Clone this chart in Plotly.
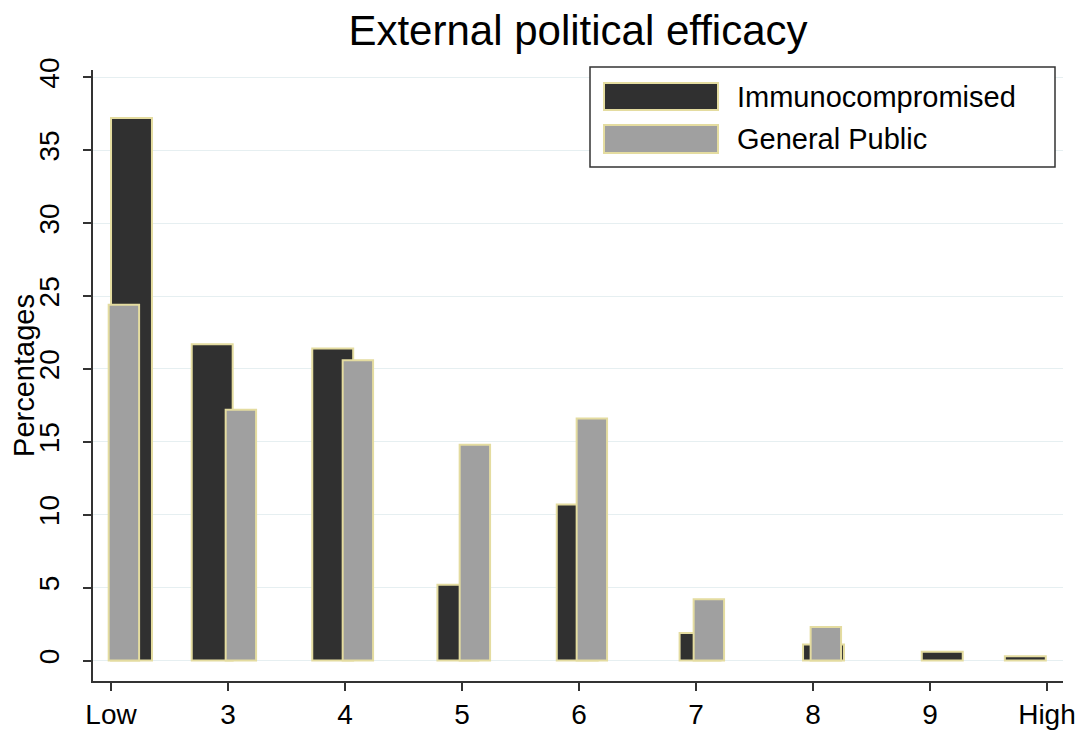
import plotly.graph_objects as go

# ---- data ----
categories = ["Low", "3", "4", "5", "6", "7", "8", "9", "High"]
immunocompromised = [37.2, 21.7, 21.4, 5.2, 10.7, 1.9, 1.1, 0.6, 0.3]
general_public = [24.4, 17.2, 20.6, 14.8, 16.6, 4.2, 2.3, 0, 0]
y_ticks = [0, 5, 10, 15, 20, 25, 30, 35, 40]

x_pos = list(range(2, 2 + len(categories)))

# ---- style ----
dark_offset = [0.0, -0.31, -0.28, -0.21, -0.19, -0.14, -0.085, -0.07, -0.36]
dark_width = 0.35
gray_offset = -0.02
gray_width = 0.26
outline = "rgb(228,220,160)"
font_family = "Liberation Sans, Arial, sans-serif"

gray_line_w = [2 if v > 0 else 0 for v in general_public]

fig = go.Figure()
fig.add_trace(go.Bar(
    x=x_pos, y=immunocompromised, name="Immunocompromised",
    offset=dark_offset, width=[dark_width] * len(x_pos),
    marker=dict(color="#303030", line=dict(color=outline, width=2)),
    showlegend=False,
))
fig.add_trace(go.Bar(
    x=x_pos, y=general_public, name="General Public",
    offset=[gray_offset] * len(x_pos), width=[gray_width] * len(x_pos),
    marker=dict(color="#a0a0a0", line=dict(color=outline, width=gray_line_w)),
    showlegend=False,
))

# page has an 8px body margin
PAD = 8
PAGE_W, PAGE_H = 1083, 733
W, H = PAGE_W - PAD, PAGE_H - PAD
# plot area in page pixels
L, R, T, B = 93, 1063, 70, 681


def px(x):
    return (x - L) / (R - L)


def py(y):
    return (B - y) / (B - T)


shapes = [
    dict(type="rect", xref="paper", yref="paper", x0=px(590), x1=px(1055), y0=py(167), y1=py(67),
         line=dict(color="#333333", width=1.5), fillcolor="white", layer="above"),
    dict(type="rect", xref="paper", yref="paper", x0=px(604), x1=px(718), y0=py(110), y1=py(83),
         line=dict(color=outline, width=2), fillcolor="#303030", layer="above"),
    dict(type="rect", xref="paper", yref="paper", x0=px(604), x1=px(718), y0=py(153), y1=py(125),
         line=dict(color=outline, width=2), fillcolor="#a0a0a0", layer="above"),
]
annotations = [
    dict(xref="paper", yref="paper", x=px(735), y=py(97), text="Immunocompromised", showarrow=False,
         xanchor="left", yanchor="middle", font=dict(size=29, color="black", family=font_family)),
    dict(xref="paper", yref="paper", x=px(735), y=py(139), text="General Public", showarrow=False,
         xanchor="left", yanchor="middle", font=dict(size=29, color="black", family=font_family)),
]

fig.update_layout(
    width=W, height=H,
    margin=dict(l=L - PAD, r=PAGE_W - R, t=T - PAD, b=PAGE_H - B, autoexpand=False),
    paper_bgcolor="white", plot_bgcolor="white",
    barmode="overlay",
    font=dict(family=font_family, color="black"),
    title=dict(text="External political efficacy", x=0.5, xref="paper", y=1 - (30 - PAD) / H, yref="container",
               xanchor="center", yanchor="middle", font=dict(size=42, color="black", family=font_family)),
    xaxis=dict(
        range=[1.846, 10.137], tickvals=x_pos, ticktext=categories,
        showgrid=False, zeroline=False, showline=True, linecolor="#333333", linewidth=1.5,
        ticks="outside", ticklen=8, tickcolor="#333333", tickwidth=1.5,
        tickfont=dict(size=28, color="black"),
    ),
    yaxis=dict(
        range=[-1.4, 40.5], tickvals=y_ticks, tickangle=-90,
        showgrid=True, gridcolor="#e6eff1", gridwidth=1, zeroline=False,
        showline=True, linecolor="#333333", linewidth=1.5,
        ticks="outside", ticklen=8, tickcolor="#333333", tickwidth=1.5,
        tickfont=dict(size=28, color="black"), ticklabelstandoff=13,
        title=dict(text="Percentages", font=dict(size=29, color="black"), standoff=6),
    ),
    shapes=shapes,
    annotations=annotations,
    showlegend=False,
)

fig.write_html("out.html")
